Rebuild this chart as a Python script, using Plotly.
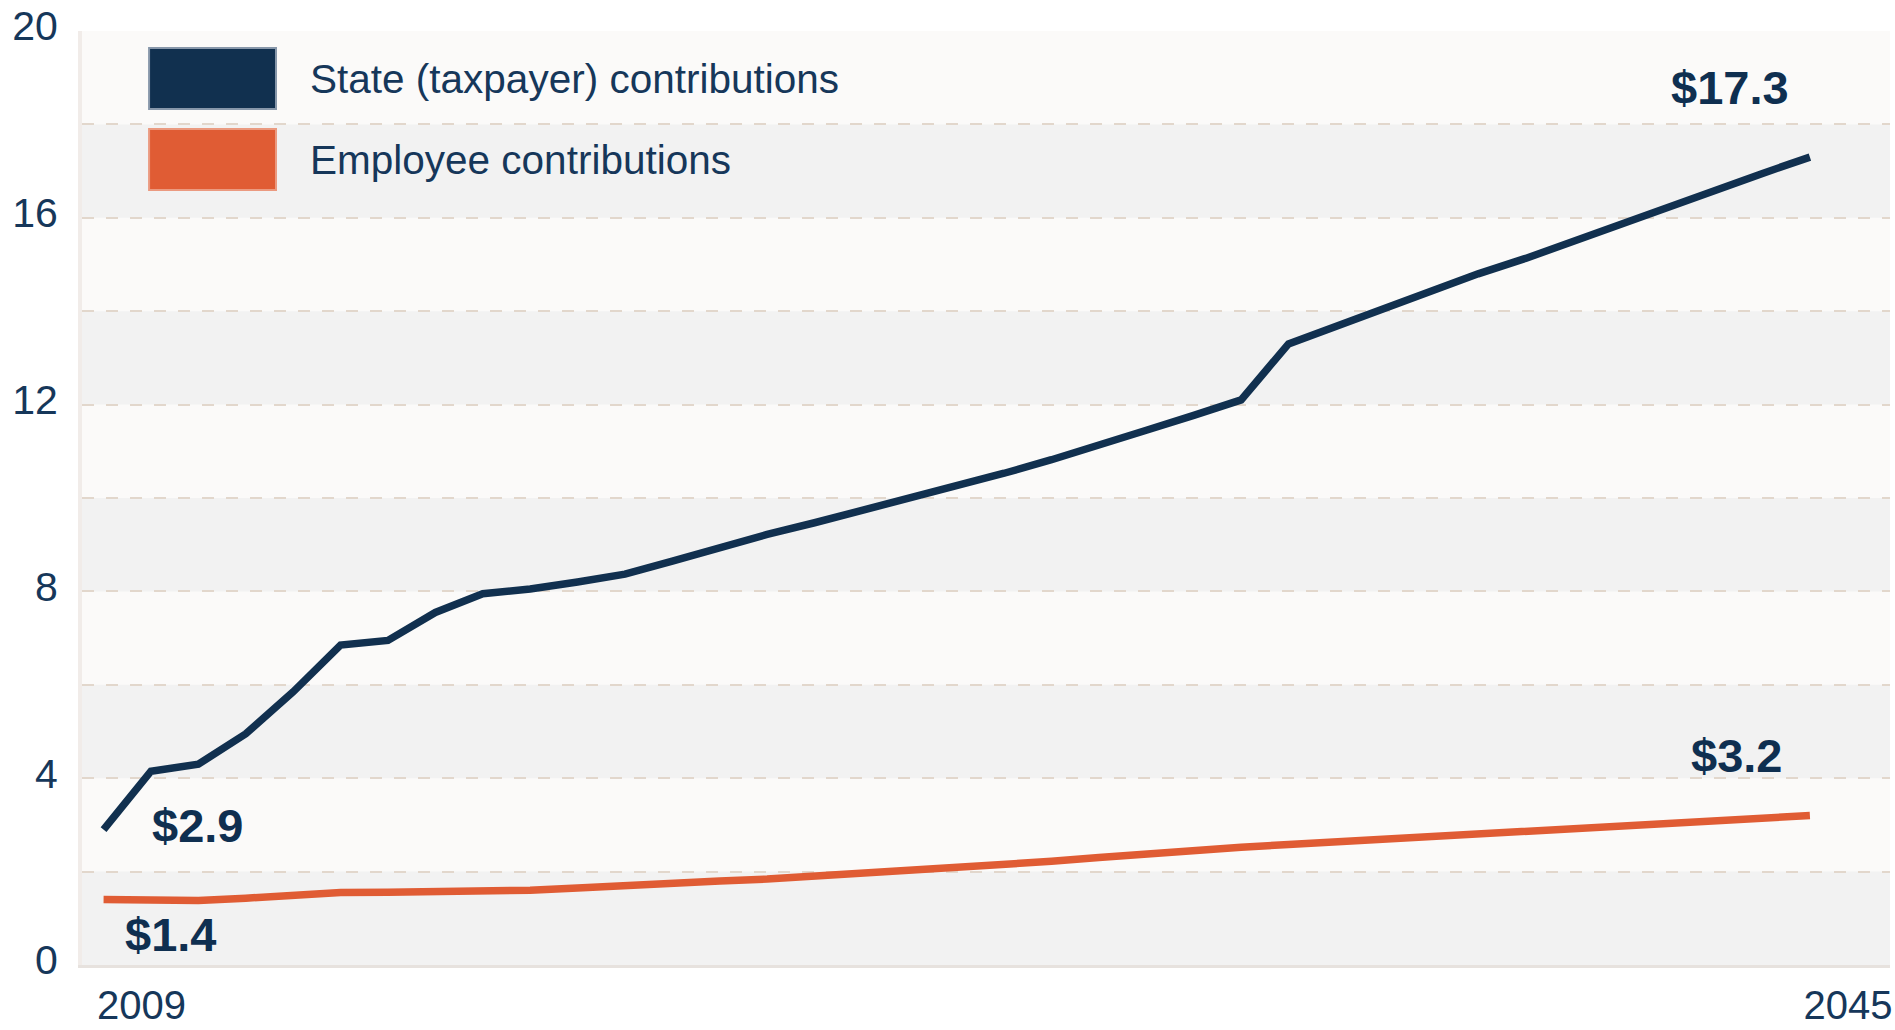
import plotly.graph_objects as go

# annual projection, billions of dollars
YEARS = list(range(2009, 2046))
STATE = [2.9, 4.15, 4.3, 4.95, 5.85, 6.85, 6.95, 7.55, 7.95, 8.05,
         8.2, 8.37, 8.65, 8.95, 9.22, 9.47, 9.73, 9.98, 10.25, 10.53,
         10.82, 11.12, 11.45, 11.77, 12.1, 13.3, 13.67, 14.07, 14.45, 14.8,
         15.13, 15.5, 15.85, 16.2, 16.58, 16.95, 17.3]
EMPLOYEE = [1.4, 1.38, 1.38, 1.43, 1.5, 1.55, 1.56, 1.56, 1.57, 1.6,
            1.65, 1.71, 1.75, 1.8, 1.84, 1.9, 1.96, 2.02, 2.07, 2.14,
            2.22, 2.3, 2.38, 2.45, 2.52, 2.58, 2.64, 2.7, 2.76, 2.82,
            2.88, 2.94, 3.0, 3.06, 3.11, 3.16, 3.2]
SERIES_NAMES = ["State (taxpayer) contributions", "Employee contributions"]
Y_TICKS = [0, 4, 8, 12, 16, 20]
GRID_VALS = [2, 4, 6, 8, 10, 12, 14, 16, 18]
X_TICKS = [2009, 2045]
BANDS = [(0, 2), (4, 6), (8, 10), (12, 14), (16, 18)]

NAVY = "#11304f"
ORANGE = "#e05c34"
TEXT = "#16375a"
FONT = "Liberation Sans, Arial, Helvetica, sans-serif"

fig = go.Figure()
fig.add_trace(go.Scatter(x=YEARS, y=STATE, mode="lines", name=SERIES_NAMES[0],
                         line=dict(color=NAVY, width=7.5), showlegend=False))
fig.add_trace(go.Scatter(x=YEARS, y=EMPLOYEE, mode="lines", name=SERIES_NAMES[1],
                         line=dict(color=ORANGE, width=7.5), showlegend=False))

# alternating background bands
for y0, y1 in BANDS:
    fig.add_shape(type="rect", xref="x domain", yref="y", x0=0, x1=1, y0=y0, y1=y1,
                  fillcolor="#f2f2f2", line_width=0, layer="below")

# hand-made legend with large swatches
for i, (name, col, edge) in enumerate([(SERIES_NAMES[0], NAVY, "#8797aa"),
                                       (SERIES_NAMES[1], ORANGE, "#eb9a80")]):
    top = 0.9818 - i * 0.0867
    fig.add_shape(type="rect", xref="paper", yref="paper", x0=0.0371, x1=0.1073,
                  y0=top - 0.0653, y1=top, fillcolor=col, line=dict(color=edge, width=2))
    fig.add_annotation(xref="paper", yref="paper", x=0.125, y=top - 0.0332,
                       xanchor="left", yanchor="middle", text=name, showarrow=False,
                       font=dict(family=FONT, size=40.5, color=TEXT))

# end-point value labels
labels = [(YEARS[-1], STATE[-1], -80, 70), (YEARS[-1], EMPLOYEE[-1], -73, 60),
          (YEARS[0], STATE[0], 94, 4), (YEARS[0], EMPLOYEE[0], 67, -35)]
for x, y, dx, dy in labels:
    fig.add_annotation(x=x, y=y, text=f"${y:.1f}", showarrow=False, xshift=dx, yshift=dy,
                       font=dict(family=FONT, size=47, color="#0f2f50", weight="bold"))

fig.update_xaxes(range=[2008.545, 2046.69], tickvals=X_TICKS, ticks="", showgrid=False,
                 zeroline=False, showline=True, linecolor="#e7e2de", linewidth=3,
                 automargin=False, ticklabelshift=38, ticklabelstandoff=3,
                 ticklabeloverflow="allow",
                 tickfont=dict(family=FONT, size=40, color=TEXT))
fig.update_yaxes(range=[0, 20], tickvals=Y_TICKS, ticks="", showgrid=False, zeroline=False,
                 showline=True, linecolor="#f1ece9", linewidth=4, automargin=False,
                 ticklabelshift=-5, ticklabelstandoff=12,
                 tickfont=dict(family=FONT, size=41, color=TEXT),
                 minor=dict(tickvals=GRID_VALS, showgrid=True, gridcolor="#e2d7cc",
                            gridwidth=2, griddash="12px,12px", ticks=""))

fig.update_layout(width=1895, height=1030, margin=dict(l=82, r=5, t=31, b=65),
                  plot_bgcolor="#fbfaf9", paper_bgcolor="white",
                  font=dict(family=FONT, color=TEXT))
fig.write_html("out.html", config={"displayModeBar": False},
               post_script="document.body.style.margin='0';")
